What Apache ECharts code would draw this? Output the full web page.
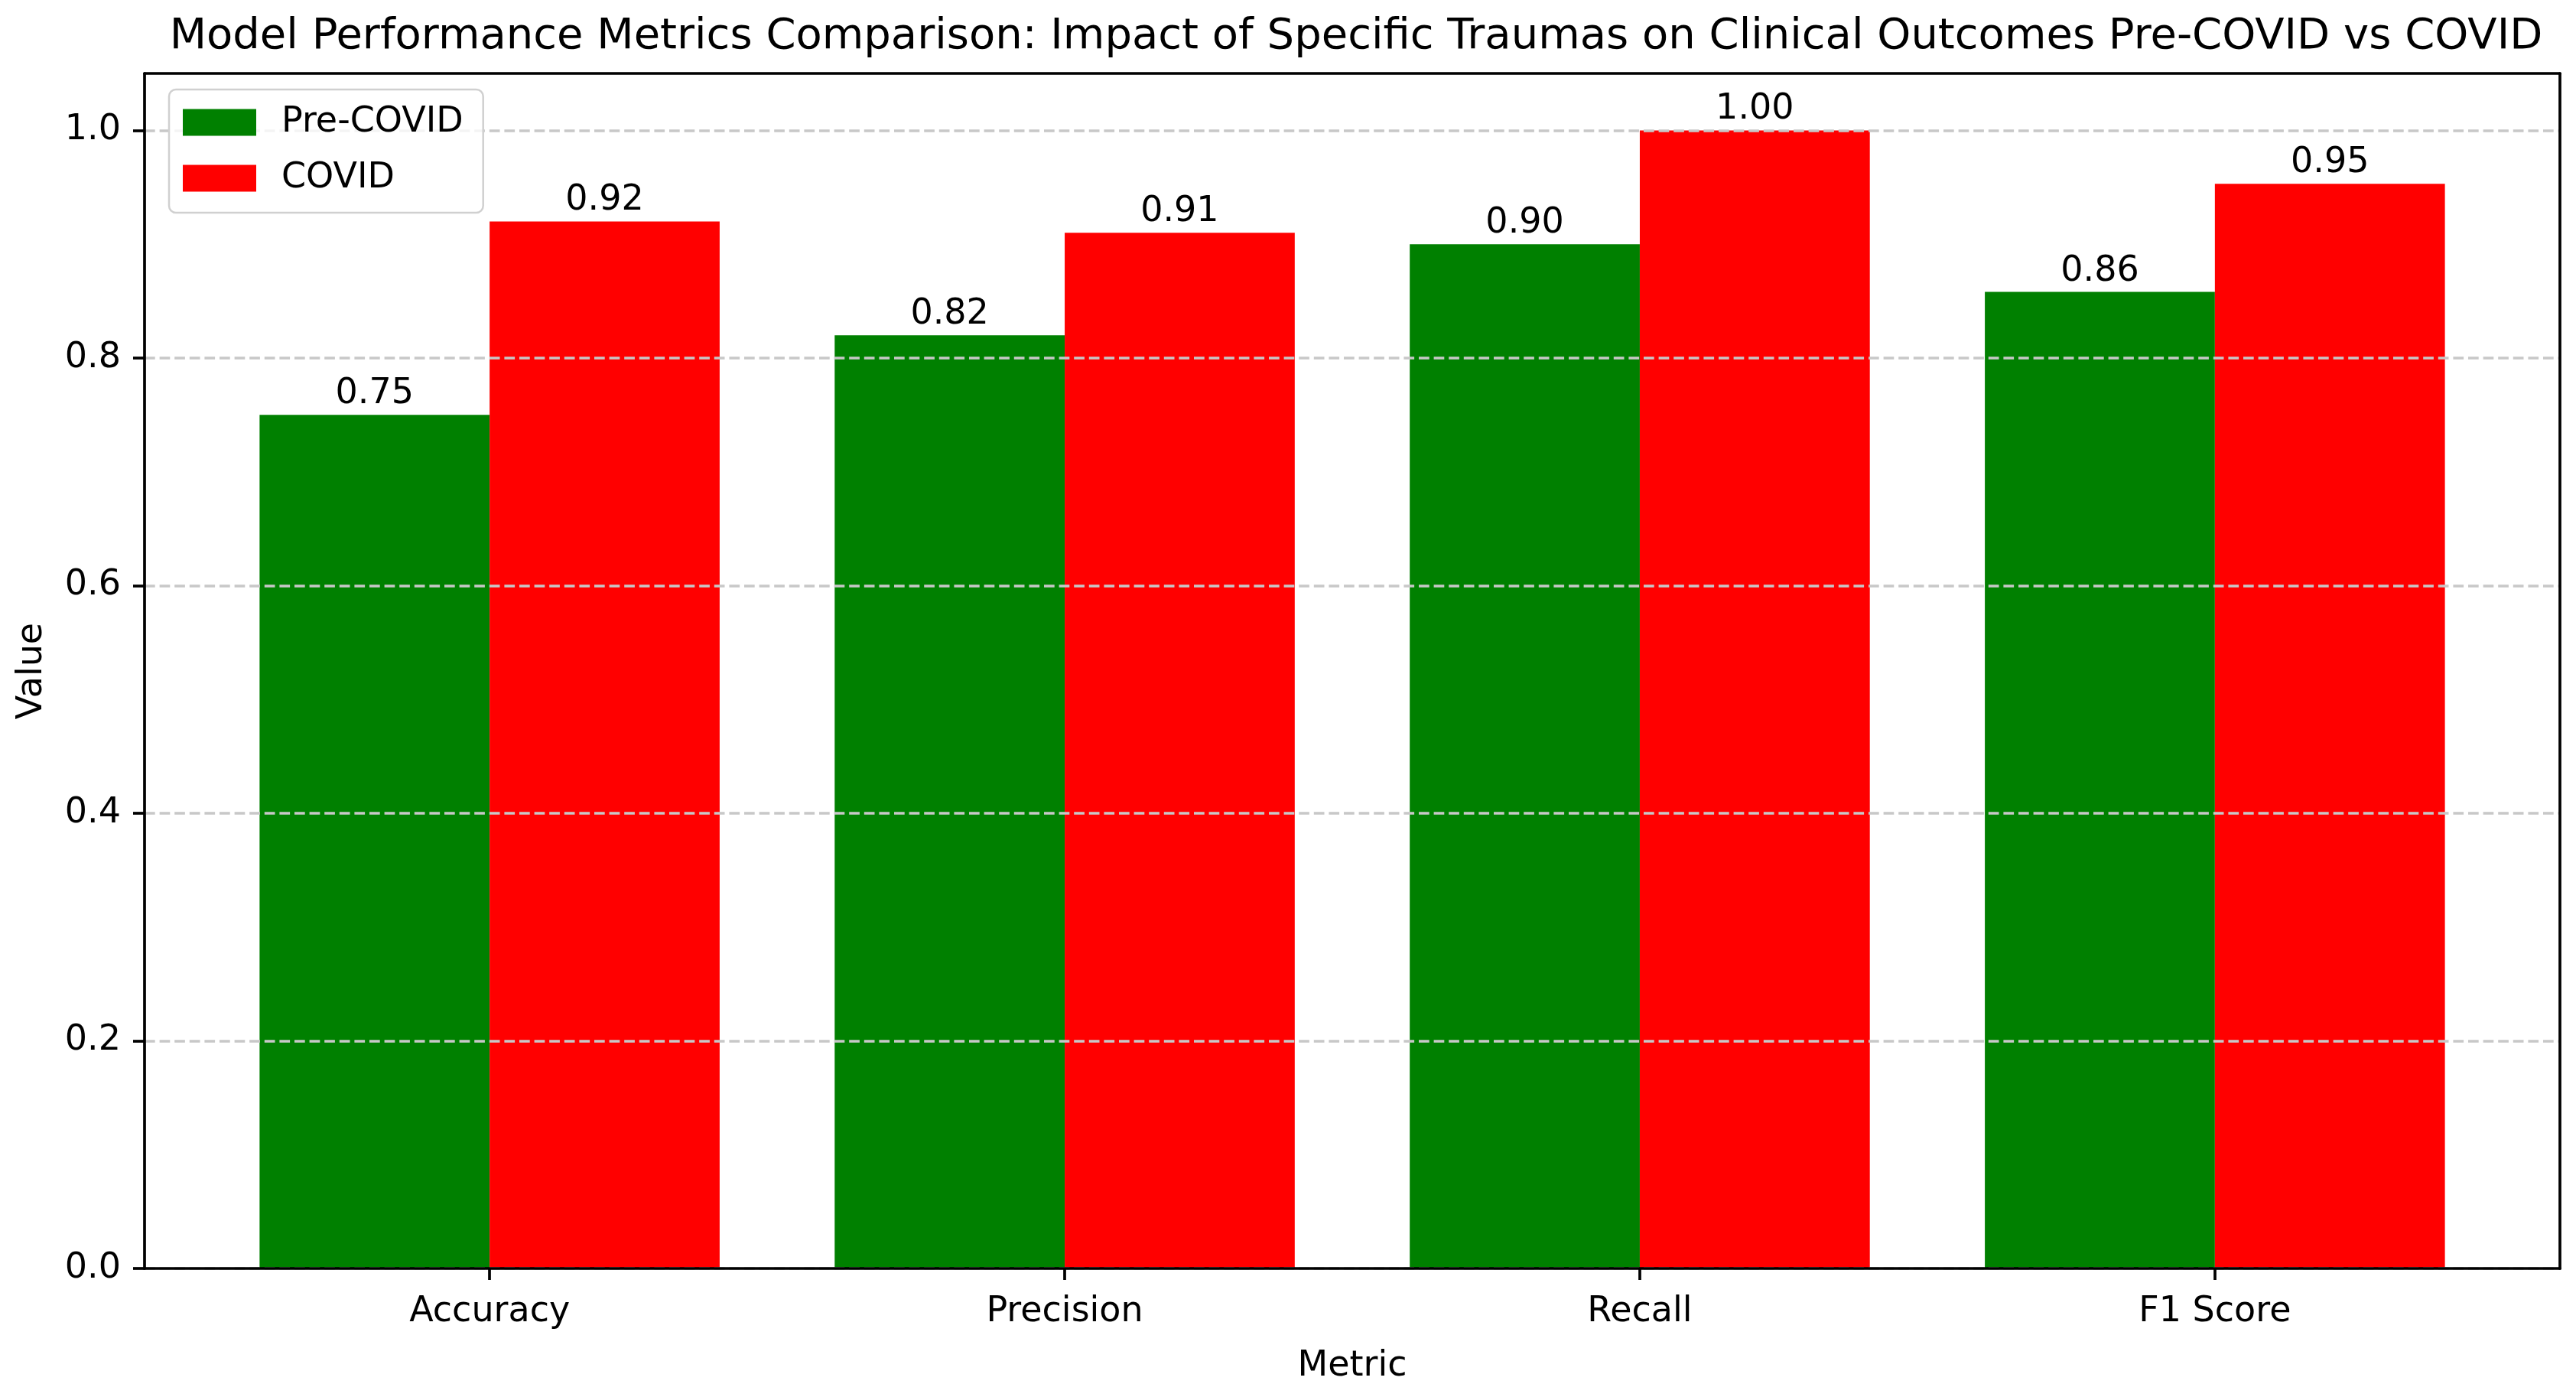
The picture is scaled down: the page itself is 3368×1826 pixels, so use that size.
<!DOCTYPE html>
<html>
<head>
<meta charset="utf-8">
<script src="https://cdn.jsdelivr.net/npm/echarts@6/dist/echarts.min.js"></script>
<style>
html,body{margin:0;padding:0;background:#fff;}
#chart{width:3368px;height:1826px;}
</style>
</head>
<body>
<div id="chart"></div>
<script>
const categories = ['Accuracy', 'Precision', 'Recall', 'F1 Score'];
const preCovid = [0.75, 0.82, 0.90, 0.858];
const covid = [0.92, 0.91, 1.00, 0.953];
const yTicks = [0, 0.2, 0.4, 0.6, 0.8, 1.0];
const seriesNames = ['Pre-COVID', 'COVID'];
const titleText = 'Model Performance Metrics Comparison: Impact of Specific Traumas on Clinical Outcomes Pre-COVID vs COVID';

const FONT = 'DejaVu Sans';
const LW = 3.7;
const chart = echarts.init(document.getElementById('chart'), null, {renderer: 'canvas'});

// axes frame geometry
const axL = 189, axR = 3347, axT = 96, axB = 1658;
const W = 3368, H = 1826;
const unit = (axR - axL) / 4.2;
const innerL = axL + 0.1 * unit, innerR = axR - 0.1 * unit;

const lineBlack = {show: true, onZero: false, lineStyle: {color: '#000', width: LW}};

chart.setOption({
  animation: false,
  backgroundColor: '#fff',
  textStyle: {fontFamily: FONT, color: '#000'},
  title: {
    text: titleText,
    left: (axL + axR) / 2,
    textAlign: 'center',
    top: 15,
    textStyle: {fontFamily: FONT, fontSize: 56, fontWeight: 'normal', color: '#000'}
  },
  legend: {
    data: seriesNames,
    orient: 'vertical',
    icon: 'rect',
    left: 221,
    top: 117,
    padding: [20, 26, 22, 18],
    itemWidth: 96,
    itemHeight: 35,
    itemGap: 27,
    backgroundColor: 'rgba(255,255,255,0.8)',
    borderColor: '#d0d0d0',
    borderWidth: 2.5,
    borderRadius: 9,
    textStyle: {fontFamily: FONT, fontSize: 46, color: '#000', padding: [0, 0, 0, 28]},
    z: 20
  },
  grid: [
    {left: axL, right: W - axR, top: axT, bottom: H - axB},
    {left: innerL, right: W - innerR, top: axT, bottom: H - axB}
  ],
  xAxis: [
    {gridIndex: 0, type: 'value', min: 0, max: 1, position: 'bottom', z: 10,
     axisLine: lineBlack, axisTick: {show: false}, axisLabel: {show: false}, splitLine: {show: false}},
    {gridIndex: 0, type: 'value', min: 0, max: 1, position: 'top', z: 10,
     axisLine: lineBlack, axisTick: {show: false}, axisLabel: {show: false}, splitLine: {show: false}},
    {gridIndex: 1, type: 'category', data: categories, position: 'bottom', z: 10,
     name: 'Metric', nameLocation: 'middle', nameGap: 105,
     nameTextStyle: {fontFamily: FONT, fontSize: 46, color: '#000'},
     axisLine: {show: false, onZero: false},
     axisTick: {show: true, alignWithLabel: true, length: 15, lineStyle: {color: '#000', width: LW}},
     axisLabel: {fontFamily: FONT, fontSize: 46, color: '#000', margin: 34},
     splitLine: {show: false}}
  ],
  yAxis: [
    {gridIndex: 0, type: 'value', min: 0, max: 1.05, position: 'left', z: 10,
     name: 'Value', nameLocation: 'middle', nameGap: 124,
     nameTextStyle: {fontFamily: FONT, fontSize: 46, color: '#000'},
     axisLine: lineBlack,
     axisTick: {show: true, length: 15, customValues: yTicks, lineStyle: {color: '#000', width: LW}},
     axisLabel: {fontFamily: FONT, fontSize: 46, color: '#000', margin: 31, customValues: yTicks,
                 formatter: v => v.toFixed(1)},
     splitLine: {show: true, lineStyle: {color: '#c8c8c8', width: LW, type: [13.7, 5.9]}}},
    {gridIndex: 0, type: 'value', min: 0, max: 1.05, position: 'right', z: 10,
     axisLine: lineBlack, axisTick: {show: false}, axisLabel: {show: false}, splitLine: {show: false}},
    {gridIndex: 1, type: 'value', min: 0, max: 1.05, show: false}
  ],
  series: [
    {name: seriesNames[0], type: 'bar', xAxisIndex: 2, yAxisIndex: 2, data: preCovid,
     barWidth: '40%', barGap: '0%', itemStyle: {color: '#008000'},
     label: {show: true, position: 'top', distance: 4, fontFamily: FONT, fontSize: 46, color: '#000',
             formatter: p => p.value.toFixed(2)}},
    {name: seriesNames[1], type: 'bar', xAxisIndex: 2, yAxisIndex: 2, data: covid,
     barWidth: '40%', barGap: '0%', itemStyle: {color: '#ff0000'},
     label: {show: true, position: 'top', distance: 4, fontFamily: FONT, fontSize: 46, color: '#000',
             formatter: p => p.value.toFixed(2)}}
  ]
});
</script>
</body>
</html>
